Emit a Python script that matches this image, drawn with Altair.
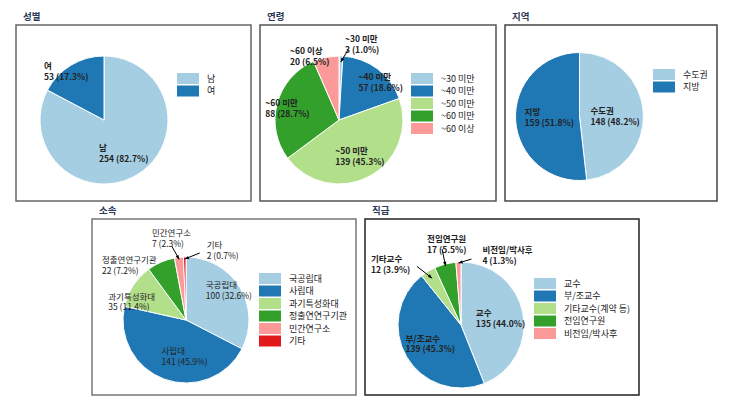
import altair as alt
import pandas as pd

# ---------------- data ----------------
sex_cats = ["남", "여"]
sex_vals = [254, 53]

age_cats = ["~30 미만", "~40 미만", "~50 미만", "~60 미만", "~60 이상"]
age_vals = [3, 57, 139, 88, 20]

region_cats = ["수도권", "지방"]
region_vals = [148, 159]

aff_cats = ["국공립대", "사립대", "과기특성화대", "정출연연구기관", "민간연구소", "기타"]
aff_vals = [100, 141, 35, 22, 7, 2]

rank_cats = ["교수", "부/조교수", "기타교수(계약 등)", "전임연구원", "비전임/박사후"]
rank_short = ["교수", "부/조교수", "기타교수", "전임연구원", "비전임/박사후"]
rank_vals = [135, 139, 12, 17, 4]

PAIRED = ["#a6cee3", "#1f78b4", "#b2df8a", "#33a02c", "#fb9a99", "#e31a1c"]

FONT = "Noto Sans CJK KR"

# label nudges (from the slice's mid-angle rim point to label's left edge / middle)
sex_off = [(-38, -27), (-27, 1)]
age_off = [(4, -17), (-19, 8), (-34, -25), (-12, 0), (-36, -6)]
region_off = [(-53, -2), (9, -8)]
aff_off = [(-34, -2), (-3, -28), (-25, 11), (-59, -2), (-27, -24), (22, -12)]
rank_off = [(-47, 0), (-1, -18), (-57, -12), (-18, -25), (24, -12)]

# leader arrows: slice index -> (tail dx, tail dy, tip inset)
age_arrows = {0: (7, -6, 6)}
aff_arrows = {4: (-7, -11, 2), 5: (15, -4, 2)}
rank_arrows = {2: (-11, -5, 8), 3: (-3, -15, 2), 4: (13, -3, 1)}


def panel(title, cats, vals, short, offs, arrows, W, H, cx, cy, R, lx, ly,
          bold=True, border="#555"):
    total = sum(vals)
    rows = []
    for i, (c, v, s) in enumerate(zip(cats, vals, short)):
        a = arrows.get(i)
        rows.append(dict(
            idx=i, cat=c, val=v,
            lab=f"{s}\n{v} ({v / total * 100:.1f}%)",
            ldx=offs[i][0], ldy=offs[i][1],
            arr=a is not None,
            adx=a[0] if a else 0, ady=a[1] if a else 0, ains=a[2] if a else 0,
        ))
    df = pd.DataFrame(rows)
    base = alt.Chart(df)

    pie = base.mark_arc(outerRadius=R, stroke="white", strokeWidth=1).encode(
        theta=alt.Theta("val:Q", stack=True),
        color=alt.Color(
            "cat:N",
            scale=alt.Scale(domain=cats, range=PAIRED[: len(cats)]),
            legend=alt.Legend(
                title=None, orient="none", legendX=lx + 5.5, legendY=ly,
                symbolType="M-2,-1H2V1H-2Z", symbolSize=121,
                symbolStrokeWidth=0, symbolOpacity=1,
                labelFontSize=9, labelFont=FONT, labelColor="#222",
                labelOffset=13.5, rowPadding=1.5, padding=0,
            ),
        ),
        order=alt.Order("idx:Q"),
        x=alt.value(cx),
        y=alt.value(cy),
    )

    geo = (
        base.transform_joinaggregate(total="sum(val)")
        .transform_window(cum="sum(val)", sort=[alt.SortField("idx")], frame=[None, 0])
        .transform_calculate(
            a="2*PI*(datum.cum - datum.val/2)/datum.total",
        )
        .transform_calculate(
            rx=f"{cx} + {R}*sin(datum.a)",
            ry=f"{cy} - {R}*cos(datum.a)",
        )
        .transform_calculate(
            lx="datum.rx + datum.ldx",
            ly="datum.ry + datum.ldy",
        )
    )

    text = geo.mark_text(
        align="left", baseline="middle", lineBreak="\n", fontSize=8.5,
        fontWeight="bold" if bold else "normal", lineHeight=10.7,
        color="#222", font=FONT,
    ).encode(
        x=alt.X("lx:Q", scale=None, axis=None),
        y=alt.Y("ly:Q", scale=None, axis=None),
        text="lab:N",
    )

    layers = [pie, text]
    if arrows:
        arr = geo.transform_filter("datum.arr").transform_calculate(
            tx=f"{cx} + ({R} - datum.ains)*sin(datum.a)",
            ty=f"{cy} - ({R} - datum.ains)*cos(datum.a)",
            sx="datum.rx + datum.adx",
            sy="datum.ry + datum.ady",
        ).transform_calculate(
            ang="(atan2(datum.tx - datum.sx, datum.sy - datum.ty)*180/PI + 360) % 360"
        )
        rule = arr.mark_rule(color="black", strokeWidth=1).encode(
            x=alt.X("sx:Q", scale=None, axis=None),
            y=alt.Y("sy:Q", scale=None, axis=None),
            x2="tx:Q",
            y2="ty:Q",
        )
        head = arr.mark_point(
            shape="M0,0L0.55,1.4L-0.55,1.4Z", filled=True, size=36,
            color="black", opacity=1,
        ).encode(
            x=alt.X("tx:Q", scale=None, axis=None),
            y=alt.Y("ty:Q", scale=None, axis=None),
            angle=alt.Angle("ang:Q", scale=None),
        )
        layers += [rule, head]

    return alt.layer(*layers).properties(
        width=W,
        height=H,
        title=alt.TitleParams(
            text=title, anchor="start", dx=7, fontSize=9.5, fontWeight="bold",
            color="#2b3a55", offset=4, frame="group", font=FONT,
        ),
        view=alt.ViewBackground(stroke=border, strokeWidth=1.5),
    )


p1 = panel("성별", sex_cats, sex_vals, sex_cats, sex_off, {}, 235, 176, 88, 95, 64, 161, 48, border="#666")
p2 = panel("연령", age_cats, age_vals, age_cats, age_off, age_arrows, 236, 176, 79, 95, 64, 151, 48, border="#555")
p3 = panel("지역", region_cats, region_vals, region_cats, region_off, {}, 212, 176, 74.5, 91.5, 64, 148, 44, border="#444")
p4 = panel("소속", aff_cats, aff_vals, aff_cats, aff_off, aff_arrows, 264, 176, 94, 101, 63, 167, 54, bold=False, border="#777")
p5 = panel("직급", rank_cats, rank_vals, rank_short, rank_off, rank_arrows, 274, 176, 96, 106, 63, 169, 59, border="#222")

# invisible spacer that shifts the bottom row to the right
spacer = alt.Chart(pd.DataFrame({"z": [0]})).mark_point(opacity=0, size=1).encode(
    x=alt.value(30), y=alt.value(30)
).properties(width=68, height=176, view=alt.ViewBackground(strokeOpacity=0, strokeWidth=0))

top = alt.hconcat(p1, p2, p3, spacing=7).resolve_scale(color="independent", theta="independent")
bottom = alt.hconcat(spacer, p4, p5, spacing=7).resolve_scale(color="independent", theta="independent")

chart = (
    alt.vconcat(top, bottom, spacing=2)
    .resolve_scale(color="independent", theta="independent")
    .properties(padding={"left": 7, "top": 2, "right": 0, "bottom": 0})
    .configure(font=FONT, background="white")
)

chart.save("out.html", embed_options={"renderer": "svg", "actions": False})
